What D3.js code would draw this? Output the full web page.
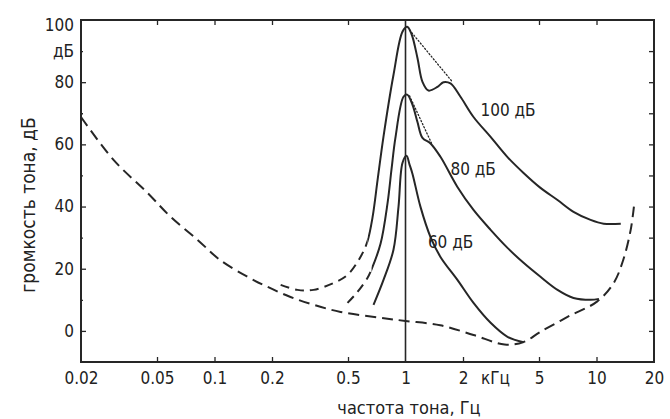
<!DOCTYPE html>
<html>
<head>
<meta charset="utf-8">
<script src="https://cdn.jsdelivr.net/npm/d3@7"></script>
<style>
  html, body { margin: 0; padding: 0; background: #fff; }
  svg { display: block; }
  text { font-family: "DejaVu Sans Condensed", "DejaVu Sans", sans-serif; font-stretch: condensed; fill: #222; }
</style>
</head>
<body>
<svg id="chart" width="670" height="419"></svg>
<script>
// ---- data (frequency in kHz, level in dB) ----
const xTickValues = [0.02, 0.05, 0.1, 0.2, 0.5, 1, 2, 5, 10, 20];
const xTickLabels = ["0.02", "0.05", "0.1", "0.2", "0.5", "1", "2", "5", "10", "20"];
const yTickValues = [0, 20, 40, 60, 80, 100];
const yMinorValues = [10, 30, 50, 70, 90];

// absolute threshold of hearing (dashed)
const thresholdQuiet = [
  [0.02, 68.8], [0.0296, 55.0], [0.0446, 44.4], [0.0589, 36.7], [0.0815, 29.3],
  [0.107, 22.8], [0.149, 17.4], [0.189, 14.2], [0.25, 10.9], [0.33, 8.4],
  [0.457, 6.1], [0.74, 4.2], [1.0, 3.2], [1.52, 1.8], [2.27, -1.3],
  [3.3, -4.4], [4.15, -3.6], [5.09, -0.3], [7.05, 4.5], [10.1, 9.5],
  [12.3, 15.4], [13.8, 22.8], [15.1, 32.5], [15.7, 40.0]
];

// masking curve, masker 100 dB (dashed below 0.63 kHz)
const mask100 = [
  [0.222, 14.8], [0.272, 13.2], [0.33, 13.2], [0.42, 15.4], [0.497, 18.0],
  [0.581, 23.8], [0.632, 28.8], [0.672, 36.5], [0.714, 48.5], [0.767, 62.5],
  [0.865, 82.3], [0.964, 96.2], [1.02, 97.8], [1.075, 95.5], [1.155, 87.8],
  [1.227, 80.1], [1.319, 77.3], [1.471, 78.5], [1.581, 80.0], [1.72, 79.6],
  [1.94, 75.3], [2.27, 68.8], [2.79, 62.4], [3.42, 55.9], [4.15, 50.8],
  [5.09, 46.0], [6.25, 42.1], [7.58, 38.3], [9.31, 35.7], [10.9, 34.5],
  [13.4, 34.5]
];
const mask100DashedUpTo = 0.632;
const mask100Dotted = [[1.05, 96.8], [1.76, 80.1]];

// masking curve, masker 80 dB (dashed below 0.66 kHz)
const mask80 = [
  [0.497, 9.0], [0.562, 12.6], [0.632, 17.0], [0.664, 19.8],
  [0.74, 28.0], [0.805, 41.0], [0.845, 52.0], [0.885, 62.0],
  [0.976, 75.3], [1.02, 76.0], [1.088, 72.7], [1.155, 67.2], [1.227, 62.1],
  [1.352, 60.3], [1.524, 56.0], [1.87, 46.3], [2.27, 38.9], [2.79, 32.5],
  [3.42, 26.7], [4.15, 21.9], [5.09, 17.4], [6.25, 13.2], [7.58, 10.6],
  [9.31, 10.0], [10.3, 10.3]
];
const mask80DashedUpTo = 0.664;
const mask80Dotted = [[1.05, 75.6], [1.37, 60.3]];

// masking curve, masker 60 dB
const mask60 = [
  [0.68, 8.4], [0.767, 16.4], [0.865, 26.1], [0.919, 39.9], [0.964, 54.0],
  [1.012, 56.3], [1.05, 53.5], [1.088, 50.5], [1.198, 39.9], [1.352, 30.2],
  [1.524, 23.8], [1.87, 16.4], [2.27, 9.0], [2.79, 2.6], [3.42, -1.9],
  [4.15, -3.6]
];

const curveLabels = [
  { text: "100 дБ", f: 2.47, db: 71 },
  { text: "80 дБ",  f: 1.72, db: 52 },
  { text: "60 дБ",  f: 1.31, db: 28.5 }
];

// ---- layout ----
const svg = d3.select("#chart");
const L = 81, R = 654, T = 20, B = 362;
const x = d3.scaleLog().domain([0.02, 20]).range([L, R]);
const y = d3.scaleLinear().domain([-10, 100]).range([B, T]);
const ink = "#262626";

// frame
svg.append("rect").attr("x", L).attr("y", T).attr("width", R - L).attr("height", B - T)
  .attr("fill", "none").attr("stroke", ink).attr("stroke-width", 2);

// 1 kHz vertical line
svg.append("line").attr("x1", x(1)).attr("x2", x(1)).attr("y1", T).attr("y2", B)
  .attr("stroke", ink).attr("stroke-width", 1.6);

// axes
const innerX = xTickValues.filter(v => v !== 0.02 && v !== 1 && v !== 20);
const gx = svg.append("g").attr("transform", `translate(0,${B})`)
  .call(d3.axisBottom(x).tickValues(xTickValues)
    .tickFormat((d, i) => xTickLabels[i]).tickSizeInner(0).tickSizeOuter(0).tickPadding(10));
gx.select(".domain").remove();
gx.selectAll("text").attr("font-size", 17);
svg.append("g").attr("transform", `translate(0,${B})`)
  .call(d3.axisBottom(x).tickValues(innerX).tickFormat("").tickSizeInner(-5).tickSizeOuter(0))
  .call(g => g.select(".domain").remove());
svg.append("g").attr("transform", `translate(0,${T})`)
  .call(d3.axisTop(x).tickValues(innerX).tickFormat("").tickSizeInner(-5).tickSizeOuter(0))
  .call(g => g.select(".domain").remove());

const gy = svg.append("g").attr("transform", `translate(${L},0)`)
  .call(d3.axisLeft(y).tickValues(yTickValues).tickSizeInner(-5).tickSizeOuter(0).tickPadding(7));
gy.select(".domain").remove();
gy.selectAll("text").attr("font-size", 17);
gy.selectAll(".tick").filter(d => d === 100).select("line").remove();
gy.selectAll(".tick").filter(d => d === 100).select("text").attr("dy", "0.62em");
svg.append("g").attr("transform", `translate(${L},0)`)
  .call(d3.axisLeft(y).tickValues(yMinorValues).tickFormat("").tickSizeInner(-2).tickSizeOuter(0))
  .call(g => g.select(".domain").remove());
svg.append("g").attr("transform", `translate(${R},0)`)
  .call(d3.axisRight(y).tickValues(yMinorValues.concat([0, 20, 40, 60, 80]))
    .tickFormat("").tickSizeInner(-5).tickSizeOuter(0))
  .call(g => g.select(".domain").remove());
svg.selectAll(".tick line").attr("stroke", ink).attr("stroke-width", 1.3);

// unit under 100
svg.append("text").attr("x", L - 7).attr("y", y(90)).attr("dy", "0.35em")
  .attr("text-anchor", "end").attr("font-size", 17).text("дБ");
// кГц next to 2
svg.append("text").attr("x", x(2) + 18).attr("y", B + 10).attr("dy", "0.71em")
  .attr("font-size", 17).text("кГц");

// axis titles
svg.append("text").attr("x", 409).attr("y", 414).attr("text-anchor", "middle")
  .attr("font-size", 18).text("частота тона, Гц");
svg.append("text").attr("transform", `translate(35,${205}) rotate(-90)`)
  .attr("text-anchor", "middle").attr("font-size", 19).text("громкость тона, дБ");

// clip regions for dashed / solid parts
const defs = svg.append("defs");
function clip(id, x0, x1) {
  defs.append("clipPath").attr("id", id).append("rect")
    .attr("x", x0).attr("y", 0).attr("width", x1 - x0).attr("height", 419);
}
clip("c100a", 0, x(mask100DashedUpTo));
clip("c100b", x(mask100DashedUpTo), 670);
clip("c80a", 0, x(mask80DashedUpTo));
clip("c80b", x(mask80DashedUpTo), 670);

// curves
const line = d3.line().x(d => x(d[0])).y(d => y(d[1])).curve(d3.curveCatmullRom.alpha(0.5));
const straight = d3.line().x(d => x(d[0])).y(d => y(d[1]));
function draw(data, dash, gen, w, clipId) {
  const p = svg.append("path").attr("d", (gen || line)(data)).attr("fill", "none")
    .attr("stroke", ink).attr("stroke-width", w || 2)
    .attr("stroke-linecap", dash === "1.2,2.2" ? "round" : "butt")
    .attr("stroke-dasharray", dash || null);
  if (clipId) p.attr("clip-path", `url(#${clipId})`);
}
draw(thresholdQuiet, "11,6");
draw(mask100, "9,6", null, 2, "c100a");
draw(mask100, null, null, 2, "c100b");
draw(mask80, "9,6", null, 2, "c80a");
draw(mask80, null, null, 2, "c80b");
draw(mask60);
draw(mask100Dotted, "1.2,2.2", straight, 1.3);
draw(mask80Dotted, "1.2,2.2", straight, 1.3);

// curve labels
svg.selectAll(".clabel").data(curveLabels).enter().append("text")
  .attr("class", "clabel")
  .attr("x", d => x(d.f)).attr("y", d => y(d.db)).attr("dy", "0.35em")
  .attr("font-size", 17).text(d => d.text);
</script>
</body>
</html>
